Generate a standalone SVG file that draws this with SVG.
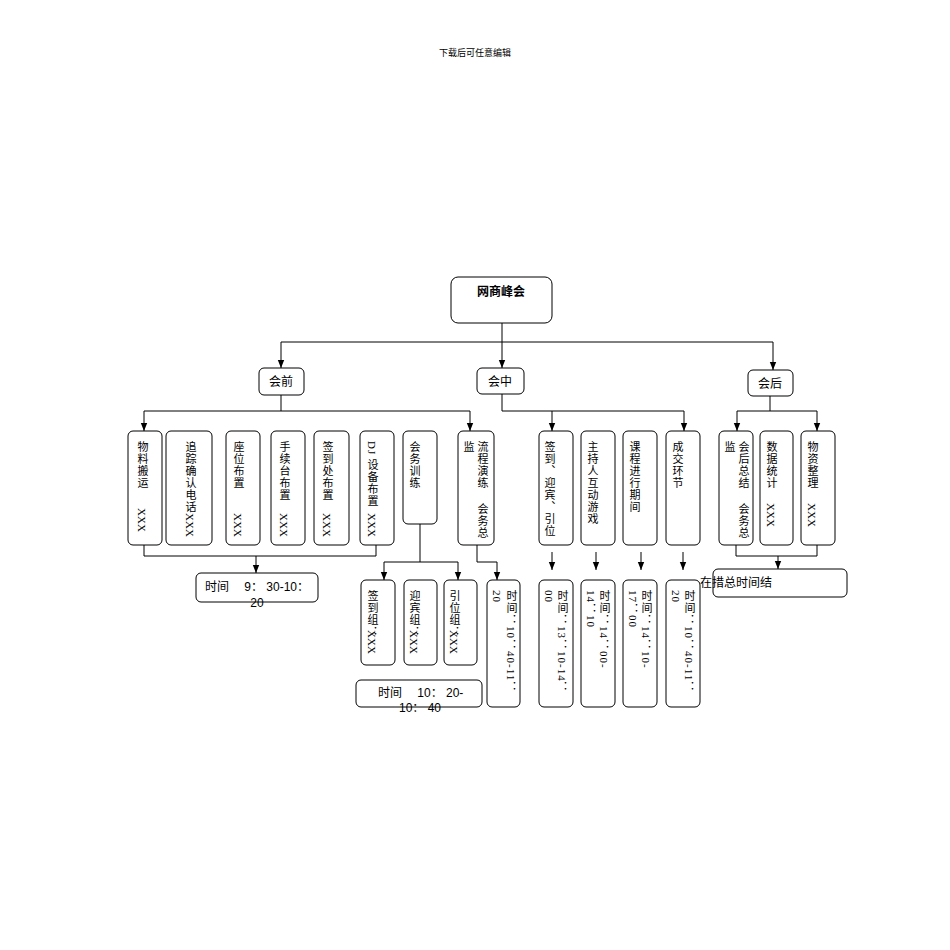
<svg xmlns="http://www.w3.org/2000/svg" width="950" height="950" viewBox="0 0 950 950">
<style>
.b{fill:#fff;stroke:#000;stroke-width:1}
.c{fill:none;stroke:#000;stroke-width:1}
.t{font-family:"Liberation Sans","Noto Sans CJK SC",sans-serif;font-size:12px;fill:#000}
.v{font-family:"Liberation Serif","Noto Sans CJK SC",serif;font-size:11px;fill:#000;writing-mode:vertical-rl;letter-spacing:1px}
.x{letter-spacing:0}
</style>
<defs><marker id="a" viewBox="0 0 10 10" refX="10" refY="5" markerWidth="8" markerHeight="8" orient="auto"><path d="M0,1 L10,5 L0,9 z" fill="#000"/></marker></defs>
<rect width="950" height="950" fill="#fff"/>
<text x="475" y="56" text-anchor="middle" style="font-family:'Noto Sans CJK SC',sans-serif;font-size:9px">下载后可任意编辑</text>
<g id="connectors" class="c">
<path d="M502,323V342"/><path d="M281,342H773"/><path d="M281,411H470"/><path d="M552,411H684"/><path d="M770,411H817"/>
<path d="M144,545V556H376V545"/><path d="M736,545V556H817V545"/><path d="M420,562H458"/>
<g marker-end="url(#a)">
<path d="M281,342V368"/><path d="M502,342V368"/><path d="M773,342V370"/>
<path d="M281,395V411H144V431"/><path d="M470,411V431"/>
<path d="M502,394V411H552V431"/><path d="M684,411V431"/>
<path d="M770,396V411H737V431"/><path d="M817,411V431"/>
<path d="M256,556V573"/>
<path d="M420,524V562H384V580"/><path d="M458,562V580"/>
<path d="M477,545V562H497V580"/>
<path d="M552,552V570"/><path d="M596,552V570"/><path d="M641,552V570"/><path d="M683,552V570"/>
<path d="M778,556V569"/>
</g>
</g>
<g id="root"><rect class="b" x="451" y="277" width="101" height="46" rx="7"/><text class="t" x="501" y="296" text-anchor="middle" font-weight="bold" font-size="13">网商峰会</text></g>
<g id="pre"><rect class="b" x="259" y="368" width="45" height="27" rx="5"/><text class="t" x="281" y="386" text-anchor="middle">会前</text></g>
<g id="mid"><rect class="b" x="477" y="368" width="47" height="26" rx="5"/><text class="t" x="500" y="386" text-anchor="middle">会中</text></g>
<g id="post"><rect class="b" x="748" y="370" width="45" height="26" rx="5"/><text class="t" x="770" y="388" text-anchor="middle">会后</text></g>
<g id="n1"><rect class="b" x="128" y="431" width="34" height="114" rx="5"/><text class="v" x="142" y="441">物料搬运</text><text class="v x" x="142" y="508">XXX</text></g>
<g id="n2"><rect class="b" x="166" y="431" width="46" height="114" rx="5"/><text class="v" x="190" y="441">追踪确认电话</text><text class="v x" x="190" y="513">XXX</text></g>
<g id="n3"><rect class="b" x="226" y="431" width="34" height="114" rx="5"/><text class="v" x="238" y="441">座位布置</text><text class="v x" x="238" y="513">XXX</text></g>
<g id="n4"><rect class="b" x="271" y="431" width="34" height="114" rx="5"/><text class="v" x="284" y="441">手续台布置</text><text class="v x" x="284" y="513">XXX</text></g>
<g id="n5"><rect class="b" x="314" y="431" width="35" height="114" rx="5"/><text class="v" x="327" y="441">签到处布置</text><text class="v x" x="327" y="513">XXX</text></g>
<g id="n6"><rect class="b" x="360" y="431" width="34" height="114" rx="5"/><text class="v" x="372" y="441">DJ 设备布置</text><text class="v x" x="372" y="513">XXX</text></g>
<g id="n7"><rect class="b" x="403" y="431" width="34" height="93" rx="5"/><text class="v" x="414" y="441">会务训练</text></g>
<g id="n8"><rect class="b" x="458" y="431" width="36" height="114" rx="5"/><text class="v" x="468" y="441">监</text><text class="v" x="482" y="441">流程演练</text><text class="v" x="482" y="503">会务总</text></g>
<g id="t1"><rect class="b" x="196" y="573" width="122" height="29" rx="5"/><text class="t" x="205" y="591" font-size="11">时间　 9：  30-10：</text><text class="t" x="257" y="607" text-anchor="middle" font-size="11">20</text></g>
<g id="g1"><rect class="b" x="361" y="580" width="34" height="85" rx="5"/><text class="v" x="372" y="590">签到组：</text><text class="v x" x="372" y="630">XXX</text></g>
<g id="g2"><rect class="b" x="404" y="580" width="33" height="85" rx="5"/><text class="v" x="414" y="590">迎宾组：</text><text class="v x" x="414" y="630">XXX</text></g>
<g id="g3"><rect class="b" x="444" y="580" width="33" height="85" rx="5"/><text class="v" x="454" y="590">引位组：</text><text class="v x" x="454" y="630">XXX</text></g>
<g id="t2"><rect class="b" x="356" y="680" width="126" height="27" rx="5"/><text class="t" x="378" y="697" font-size="11">时间　 10：  20-</text><text class="t" x="420" y="712" text-anchor="middle" font-size="11">10：  40</text></g>
<g id="t3"><rect class="b" x="487" y="580" width="33" height="127" rx="5"/><text class="v" x="511" y="590">时间：10：40-11：</text><text class="v" x="497" y="590">20</text></g>
<g id="m1"><rect class="b" x="539" y="431" width="34" height="114" rx="5"/><text class="v" x="549" y="441">签到、迎宾、引位</text></g>
<g id="m2"><rect class="b" x="581" y="431" width="34" height="114" rx="5"/><text class="v" x="592" y="441">主持人互动游戏</text></g>
<g id="m3"><rect class="b" x="623" y="431" width="34" height="114" rx="5"/><text class="v" x="634" y="441">课程进行期间</text></g>
<g id="m4"><rect class="b" x="666" y="431" width="34" height="114" rx="5"/><text class="v" x="677" y="441">成交环节</text></g>
<g id="mt1"><rect class="b" x="539" y="580" width="34" height="127" rx="5"/><text class="v" x="562" y="590">时间：13：10-14：</text><text class="v" x="549" y="590">00</text></g>
<g id="mt2"><rect class="b" x="581" y="580" width="34" height="127" rx="5"/><text class="v" x="604" y="590">时间：14：00-</text><text class="v" x="591" y="590">14：10</text></g>
<g id="mt3"><rect class="b" x="623" y="580" width="34" height="127" rx="5"/><text class="v" x="646" y="590">时间：14：10-</text><text class="v" x="633" y="590">17：00</text></g>
<g id="mt4"><rect class="b" x="666" y="580" width="34" height="127" rx="5"/><text class="v" x="689" y="590">时间：10：40-11：</text><text class="v" x="676" y="590">20</text></g>
<g id="p1"><rect class="b" x="719" y="431" width="34" height="114" rx="5"/><text class="v" x="729" y="441">监</text><text class="v" x="743" y="441">会后总结</text><text class="v" x="743" y="503">会务总</text></g>
<g id="p2"><rect class="b" x="760" y="431" width="33" height="114" rx="5"/><text class="v" x="771" y="441">数据统计</text><text class="v x" x="771" y="503">XXX</text></g>
<g id="p3"><rect class="b" x="801" y="431" width="34" height="114" rx="5"/><text class="v" x="812" y="441">物资整理</text><text class="v x" x="812" y="503">XXX</text></g>
<g id="pt"><rect class="b" x="713" y="569" width="134" height="28" rx="5"/><text class="t" x="700" y="587">在措总时间结</text></g>
</svg>
